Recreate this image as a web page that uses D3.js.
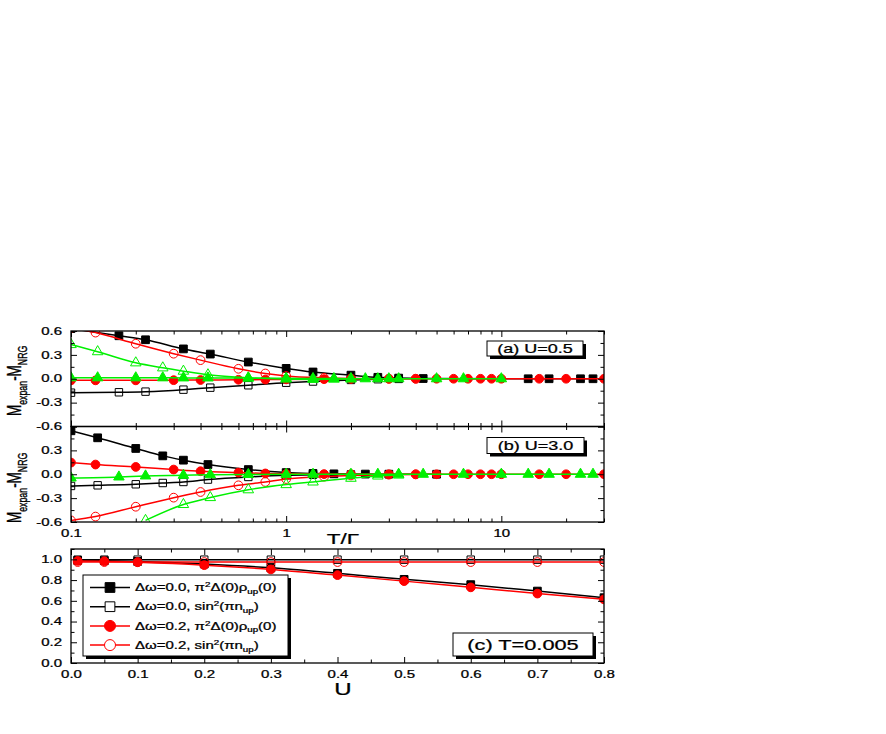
<!DOCTYPE html>
<html lang="en">
<head>
<meta charset="UTF-8">
<title>M expan - M NRG</title>
<script src="https://d3js.org/d3.v7.min.js"></script>
<style>
  body { margin: 0; background: #fff; }
  svg { font-family: "Liberation Sans", Arial, sans-serif; }
  svg text { stroke: #000; stroke-width: 0.25px; }
</style>
</head>
<body>
<svg width="886" height="734"></svg>
<script>
// ---- data ----
// panel (a) U=0.5
var aBlackFilledT = [0.1, 0.167, 0.222, 0.333, 0.444, 0.667, 1.0, 1.333, 2, 2.667, 3.333, 4.333, 13.33, 16.67, 23.33, 26.67];
var aBlackFilled  = [0.63, 0.54, 0.49, 0.375, 0.31, 0.21, 0.13, 0.085, 0.045, 0.018, 0.008, 0.003, 0, 0, 0, 0];
var aBlackOpenT   = [0.1, 0.167, 0.222, 0.333, 0.444, 0.667, 1.0, 1.333, 2, 2.667, 3.333];
var aBlackOpen    = [-0.175, -0.17, -0.162, -0.137, -0.112, -0.082, -0.05, -0.035, -0.015, -0.006, -0.002];
var aRedFilledT   = [0.1, 0.13, 0.2, 0.3, 0.4, 0.6, 0.8, 1.0, 1.5, 2, 3, 4, 5, 6, 7, 8, 9, 10, 15, 20, 30];
var aRedFilled    = [-0.02, -0.02, -0.02, -0.018, -0.016, -0.013, -0.01, -0.008, -0.005, -0.003, -0.001, 0, 0, 0, 0, 0, 0, 0, 0, 0, 0];
var aRedOpenT     = [0.1, 0.13, 0.2, 0.3, 0.4, 0.6, 0.8, 1.0, 1.5, 2, 3, 4];
var aRedOpen      = [0.64, 0.58, 0.44, 0.315, 0.234, 0.125, 0.066, 0.035, 0.012, 0.004, 0.001, 0];
var aGreenFilledT = [0.1, 0.133, 0.2, 0.267, 0.333, 0.433, 0.667, 1.0, 1.333, 1.667, 2, 2.333, 2.667, 3, 3.333, 5, 6.667, 10];
var aGreenFilled  = [0.012, 0.012, 0.012, 0.012, 0.011, 0.01, 0.008, 0.005, 0.003, 0.002, 0.001, 0, 0, 0, 0, 0, 0, 0];
var aGreenOpenT   = [0.1, 0.133, 0.2, 0.267, 0.333, 0.433, 0.667, 1.0, 1.333, 1.667, 2];
var aGreenOpen    = [0.43, 0.34, 0.2, 0.137, 0.095, 0.05, 0.012, -0.004, -0.008, -0.005, -0.002];

// panel (b) U=3.0
var bBlackFilledT = [0.1, 0.133, 0.2, 0.267, 0.333, 0.433, 0.667, 1.0, 1.333, 1.667, 2.333, 3, 5];
var bBlackFilled  = [0.546, 0.458, 0.324, 0.231, 0.177, 0.122, 0.059, 0.021, 0.01, 0.005, 0.002, 0.001, 0];
var bBlackOpenT   = [0.1, 0.133, 0.2, 0.267, 0.333, 0.433, 0.667, 1.0, 1.333, 2];
var bBlackOpen    = [-0.147, -0.139, -0.126, -0.11, -0.097, -0.067, -0.034, -0.013, -0.006, -0.002];
var bRedFilledT   = [0.1, 0.13, 0.2, 0.3, 0.4, 0.6, 0.8, 1.0, 1.5, 2, 3, 4, 5, 6, 7, 8, 9, 10, 15, 20, 30];
var bRedFilled    = [0.147, 0.122, 0.092, 0.059, 0.038, 0.021, 0.01, 0.005, 0.002, 0.001, 0, 0, 0, 0, 0, 0, 0, 0, 0, 0, 0];
var bRedOpenT     = [0.1, 0.13, 0.2, 0.3, 0.4, 0.6, 0.8, 1.0, 1.5, 2, 3, 4];
var bRedOpen      = [-0.58, -0.532, -0.408, -0.294, -0.223, -0.139, -0.097, -0.06, -0.03, -0.015, -0.005, -0.002];
var bGreenFilledT = [0.1, 0.167, 0.222, 0.333, 0.444, 0.667, 1.0, 1.333, 2, 2.667, 3.333, 4.333, 6.667, 10, 13.33, 16.67, 23.33, 26.67];
var bGreenFilled  = [-0.047, -0.034, -0.021, -0.013, -0.006, -0.003, -0.001, 0, 0, 0, 0, 0, 0, 0, 0, 0, 0, 0];
var bGreenOpenT   = [0.222, 0.333, 0.444, 0.667, 1.0, 1.333, 2, 2.667, 3.333];
var bGreenOpen    = [-0.58, -0.38, -0.293, -0.195, -0.13, -0.097, -0.05, -0.022, -0.01];

// panel (c) T=0.005
var uValues      = [0.01, 0.05, 0.1, 0.2, 0.3, 0.4, 0.5, 0.6, 0.7, 0.8];
var cBlackFilled = [0.99, 0.987, 0.98, 0.955, 0.918, 0.865, 0.807, 0.756, 0.694, 0.63];
var cBlackOpen   = [0.997, 0.997, 0.997, 0.997, 0.997, 0.997, 0.997, 0.997, 0.997, 0.997];
var cRedFilled   = [0.985, 0.982, 0.972, 0.944, 0.903, 0.848, 0.79, 0.73, 0.67, 0.614];
var cRedOpen     = [0.974, 0.974, 0.974, 0.974, 0.974, 0.974, 0.974, 0.974, 0.974, 0.974];

// ticks
var logMajor = [0.1, 1, 10];
var logMinor = [0.2, 0.3, 0.4, 0.5, 0.6, 0.7, 0.8, 0.9, 2, 3, 4, 5, 6, 7, 8, 9, 20, 30];
var dMajor = [-0.6, -0.3, 0, 0.3, 0.6];
var dMinor = [-0.45, -0.15, 0.15, 0.45];
var uMajor = [0, 0.1, 0.2, 0.3, 0.4, 0.5, 0.6, 0.7, 0.8];
var uMinor = [0.05, 0.15, 0.25, 0.35, 0.45, 0.55, 0.65, 0.75];
var cMajor = [0, 0.2, 0.4, 0.6, 0.8, 1.0];
var cMinor = [0.1, 0.3, 0.5, 0.7, 0.9, 1.1];

var legendLabels = [
    [["Δω=0.0, π"], ["2", "sup"], ["Δ(0)ρ"], ["up", "sub"], ["(0)"]],
    [["Δω=0.0, sin"], ["2", "sup"], ["(πn"], ["up", "sub"], [")"]],
    [["Δω=0.2, π"], ["2", "sup"], ["Δ(0)ρ"], ["up", "sub"], ["(0)"]],
    [["Δω=0.2, sin"], ["2", "sup"], ["(πn"], ["up", "sub"], [")"]]
];

// ---- drawing ----
var SX = 1.5;   // the picture is stretched sideways, text too
var RED = "#ff0000", GREEN = "#00f000";

var svg = d3.select("svg");

var xT = d3.scaleLog().domain([0.1, 30]).range([71, 604]);
var yA = d3.scaleLinear().domain([-0.6, 0.6]).range([426.5, 331]);
var yB = d3.scaleLinear().domain([-0.6, 0.6]).range([522, 426.5]);
var xU = d3.scaleLinear().domain([0, 0.8]).range([71, 604]);
var yC = d3.scaleLinear().domain([0, 1.1]).range([663, 549]);

function richText(parent, x, y, parts, size, anchor, rot) {
    var t = parent.append("text")
        .attr("transform", "translate(" + x + "," + y + ") scale(" + SX + ",1)" + (rot ? " rotate(" + rot + ")" : ""))
        .attr("font-size", size)
        .attr("text-anchor", anchor || "start")
        .attr("fill", "#000");
    var shift = 0;
    parts.forEach(function(p) {
        var k = p[1] || "n";
        var target = k === "sup" ? -0.4 * size : (k === "sub" ? 0.28 * size : 0);
        t.append("tspan")
            .attr("dy", target - shift)
            .attr("font-size", k === "n" ? size : size * 0.65)
            .text(p[0]);
        shift = target;
    });
    return t;
}

function addAxis(orient, scale, majors, minors, tx, ty, fmt) {
    var mk = {top: d3.axisTop, bottom: d3.axisBottom, left: d3.axisLeft, right: d3.axisRight}[orient];
    var g = svg.append("g").attr("transform", "translate(" + tx + "," + ty + ")");
    g.call(mk(scale).tickValues(majors).tickSizeInner(-6).tickSizeOuter(0)
        .tickPadding(orient === "left" ? 6 : 8)
        .tickFormat(fmt || function() { return ""; }));
    g.select(".domain").remove();
    g.attr("font-size", 10).attr("font-family", null);
    g.selectAll("text").attr("transform", "scale(" + SX + ",1)").attr("fill", "#000");
    g.selectAll("line").attr("stroke", "#000");
    var m = svg.append("g").attr("transform", "translate(" + tx + "," + ty + ")");
    m.call(mk(scale).tickValues(minors).tickSizeInner(-3.5).tickSizeOuter(0).tickFormat(function() { return ""; }));
    m.select(".domain").remove();
    m.selectAll("line").attr("stroke", "#000");
}

var clipN = 0;
function drawSeries(g, xs, ys, xScale, yScale, color, shape, filled, size) {
    var pts = xs.map(function(x, i) { return [xScale(x), yScale(ys[i])]; });
    g.append("path")
        .attr("d", d3.line().curve(d3.curveMonotoneX)(pts))
        .attr("fill", "none").attr("stroke", color).attr("stroke-width", 1.5);
    var sym = d3.symbol().type(shape).size(size);
    g.selectAll(null).data(pts).enter().append("path")
        .attr("d", sym)
        .attr("transform", function(d) { return "translate(" + d[0] + "," + d[1] + ")"; })
        .attr("fill", filled ? color : "none")
        .attr("stroke", color).attr("stroke-width", 1);
}

function panel(x0, y0, x1, y1) {
    var id = "clip" + (clipN++);
    svg.append("clipPath").attr("id", id).append("rect")
        .attr("x", x0).attr("y", y0).attr("width", x1 - x0).attr("height", y1 - y0);
    return svg.append("g").attr("clip-path", "url(#" + id + ")");
}

function frame(x0, y0, x1, y1) {
    svg.append("rect").attr("x", x0).attr("y", y0).attr("width", x1 - x0).attr("height", y1 - y0)
        .attr("fill", "none").attr("stroke", "#000").attr("stroke-width", 1.3);
}

function labelBox(x, y, w, h, text, size) {
    svg.append("rect").attr("x", x + 3).attr("y", y + 3).attr("width", w).attr("height", h).attr("fill", "#000");
    svg.append("rect").attr("x", x).attr("y", y).attr("width", w).attr("height", h)
        .attr("fill", "#fff").attr("stroke", "#000").attr("stroke-width", 1);
    richText(svg, x + w / 2, y + h / 2 + size * 0.36, [[text]], size, "middle");
}

var fmt1 = function(d) { return d.toFixed(1); };

// panel (a)
var gA = panel(71, 331, 604, 426.5);
drawSeries(gA, aBlackFilledT, aBlackFilled, xT, yA, "#000", d3.symbolSquare, true, 60);
drawSeries(gA, aBlackOpenT, aBlackOpen, xT, yA, "#000", d3.symbolSquare, false, 55);
drawSeries(gA, aRedFilledT, aRedFilled, xT, yA, RED, d3.symbolCircle, true, 60);
drawSeries(gA, aRedOpenT, aRedOpen, xT, yA, RED, d3.symbolCircle, false, 60);
drawSeries(gA, aGreenFilledT, aGreenFilled, xT, yA, GREEN, d3.symbolTriangle, true, 48);
drawSeries(gA, aGreenOpenT, aGreenOpen, xT, yA, GREEN, d3.symbolTriangle, false, 48);
frame(71, 331, 604, 426.5);
addAxis("top", xT, logMajor, logMinor, 0, 331);
addAxis("bottom", xT, logMajor, logMinor, 0, 426.5);
addAxis("left", yA, dMajor, dMinor, 71, 0, fmt1);
addAxis("right", yA, dMajor, dMinor, 604, 0);
labelBox(487, 341, 96, 15, "(a) U=0.5", 12);

// panel (b)
var gB = panel(71, 426.5, 604, 522);
drawSeries(gB, bBlackFilledT, bBlackFilled, xT, yB, "#000", d3.symbolSquare, true, 60);
drawSeries(gB, bBlackOpenT, bBlackOpen, xT, yB, "#000", d3.symbolSquare, false, 55);
drawSeries(gB, bRedFilledT, bRedFilled, xT, yB, RED, d3.symbolCircle, true, 60);
drawSeries(gB, bRedOpenT, bRedOpen, xT, yB, RED, d3.symbolCircle, false, 60);
drawSeries(gB, bGreenFilledT, bGreenFilled, xT, yB, GREEN, d3.symbolTriangle, true, 48);
drawSeries(gB, bGreenOpenT, bGreenOpen, xT, yB, GREEN, d3.symbolTriangle, false, 48);
frame(71, 426.5, 604, 522);
addAxis("top", xT, logMajor, logMinor, 0, 426.5);
addAxis("bottom", xT, logMajor, logMinor, 0, 522, function(d) { return d < 1 ? "0.1" : String(d); });
addAxis("left", yB, dMajor, dMinor, 71, 0, function(d) { return d > 0.5 ? "" : d.toFixed(1); });
addAxis("right", yB, dMajor, dMinor, 604, 0);
labelBox(487, 437.5, 97, 16, "(b) U=3.0", 12);

// panel (c)
var gC = panel(71, 549, 604, 663);
drawSeries(gC, uValues, cBlackFilled, xU, yC, "#000", d3.symbolSquare, true, 60);
drawSeries(gC, uValues, cBlackOpen, xU, yC, "#000", d3.symbolSquare, false, 55);
drawSeries(gC, uValues, cRedFilled, xU, yC, RED, d3.symbolCircle, true, 60);
drawSeries(gC, uValues, cRedOpen, xU, yC, RED, d3.symbolCircle, false, 60);
frame(71, 549, 604, 663);
addAxis("top", xU, uMajor, uMinor, 0, 549);
addAxis("bottom", xU, uMajor, uMinor, 0, 663, fmt1);
addAxis("left", yC, cMajor, cMinor, 71, 0, fmt1);
addAxis("right", yC, cMajor, cMinor, 604, 0);

// legend
svg.append("rect").attr("x", 86).attr("y", 578).attr("width", 205).attr("height", 81).attr("fill", "#000");
svg.append("rect").attr("x", 83).attr("y", 575).attr("width", 205).attr("height", 81)
    .attr("fill", "#fff").attr("stroke", "#000").attr("stroke-width", 1);
var legendStyle = [
    ["#000", d3.symbolSquare, true],
    ["#000", d3.symbolSquare, false],
    [RED, d3.symbolCircle, true],
    [RED, d3.symbolCircle, false]
];
legendLabels.forEach(function(parts, i) {
    var ly = 587.5 + i * 19.2;
    var st = legendStyle[i];
    svg.append("line").attr("x1", 90).attr("x2", 130).attr("y1", ly).attr("y2", ly)
        .attr("stroke", st[0]).attr("stroke-width", 1.5);
    svg.append("path").attr("d", d3.symbol().type(st[1]).size(95))
        .attr("transform", "translate(110," + ly + ")")
        .attr("fill", st[2] ? st[0] : "#fff").attr("stroke", st[0]).attr("stroke-width", 1);
    richText(svg, 135, ly + 3.6, parts, 10, "start");
});
labelBox(453, 633, 140, 23, "(c) T=0.005", 14.5);

// axis titles
richText(svg, 343, 544, [["T/Γ"]], 15, "middle");
richText(svg, 343, 695, [["U"]], 16, "middle");
var yTitle = [["M"], ["expan", "sub"], ["-M"], ["NRG", "sub"]];
richText(svg, 21, 416, yTitle, 13.5, "start", -90);
richText(svg, 21, 523, yTitle, 13.5, "start", -90);
</script>
</body>
</html>
